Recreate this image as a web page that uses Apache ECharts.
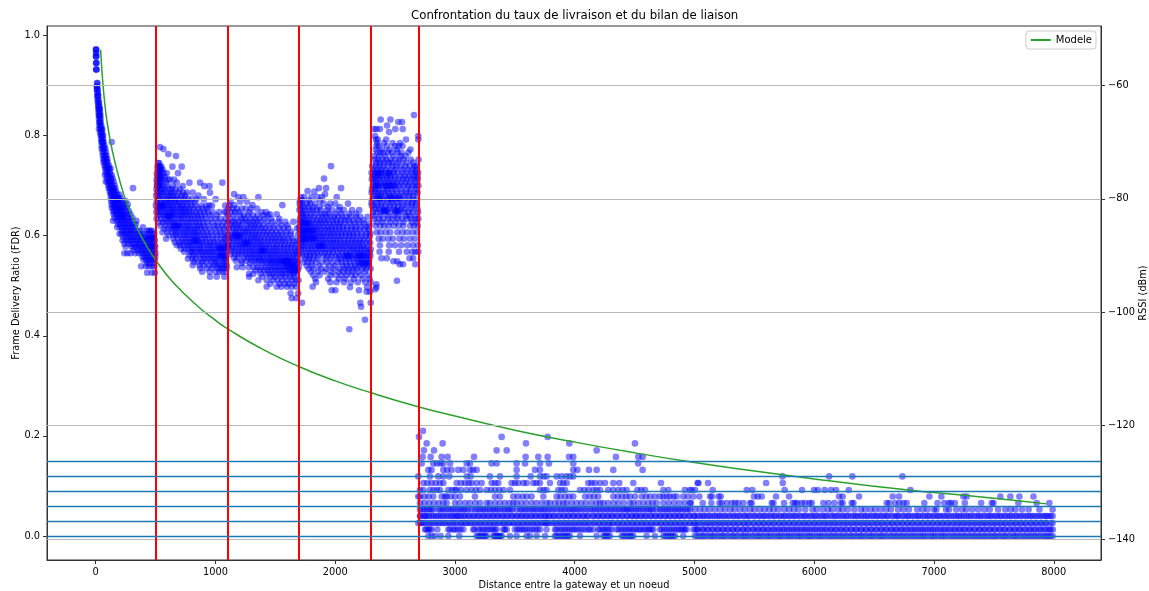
<!DOCTYPE html>
<html><head><meta charset="utf-8">
<script src="https://cdn.jsdelivr.net/npm/echarts@6/dist/echarts.min.js"></script>
<style>html,body{margin:0;padding:0;background:#fff}#c{width:1149px;height:591px}</style></head>
<body><div id="c"></div>
<script>
const xTicks=[0,1000,2000,3000,4000,5000,6000,7000,8000];
const fdrTicks=[0,0.2,0.4,0.6,0.8,1.0];
const rssiTicks=[-140,-120,-100,-80,-60];
const redLines=[500,1100,1700,2300,2700];
const blueLines=[0,0.034,0.062,0.09,0.118,0.146];
const modelDist=[42,50,61,70,80,90,103,125,150,200,261,340,423,498,642,867,1007,1093,1400,1700,2000,2300,2700,3000,3500,4000,4500,5000,5500,6000,6500,7000,7500,7940];
const modelRssi=[-53.7,-56.6,-59.7,-61.9,-63.9,-65.6,-67.4,-70,-72.5,-76.7,-80.8,-84.9,-88.2,-90.7,-94.6,-99.2,-101.5,-102.8,-106.6,-109.6,-112.1,-114.2,-116.7,-118.3,-120.8,-122.9,-124.8,-126.5,-128,-129.4,-130.7,-131.8,-132.8,-133.8];
// each row: [FDR level, distances read at that level]
const segA=[[.972,[2,4,5]],[.965,[3,6]],[.958,[2,4,6]],[.945,[3,6,7]],[.932,[4,6,8]],[.905,[12,15]],[.898,[9,13]],[.892,[10,14,17]],[.885,[15,19]],[.879,[13,18,22]],[.872,[17,23]],[.866,[18,24,28]],[.859,[21,26,31]],[.853,[22,28,33,36]],[.846,[25,31,37]],[.84,[26,30,35,40]],[.833,[28,36,41]],[.826,[30,36,42]],[.82,[33,39,47]],[.813,[28,40,46,50,55]],[.806,[37,47,54]],[.8,[42,50,56,62]],[.793,[46,53,63]],[.787,[48,55,60,66,134]],[.78,[51,64,73]],[.774,[50,62,70,80]],[.767,[57,69,86]],[.76,[60,72,82,90]],[.753,[64,75,88,97]],[.747,[66,78,90,100]],[.74,[74,86,99,111]],[.734,[80,92,105,115,125]],[.727,[84,101,118]],[.721,[78,96,108,120,135]],[.714,[94,113,127,141]],[.708,[85,100,115,130,150]],[.701,[106,122,133,158]],[.695,[110,120,135,150,165,312]],[.688,[118,129,147,171]],[.682,[125,135,150,165,180,200]],[.675,[128,143,155,172,191,208]],[.669,[130,145,160,175,190,205,225,250]],[.662,[134,152,163,181,197,216,242,268]],[.656,[135,150,165,180,200,215,235,260]],[.649,[146,159,176,193,211,229,254,278]],[.643,[150,170,185,205,225,240,265,290]],[.636,[158,181,198,218,236,259,281,306]],[.63,[145,175,195,215,235,250,275,295,340]],[.623,[188,206,228,247,268,287,313,336]],[.617,[180,205,225,245,265,285,305,325,395]],[.61,[218,236,258,279,296,320,347,372]],[.604,[200,215,240,255,275,295,315,340,360,385,410,440,470,490]],[.597,[232,261,286,304,331,352,379,402,426,452,484]],[.591,[225,250,270,290,310,330,350,370,390,410,430,450,470,495]],[.584,[240,273,298,323,345,366,388,414,437,461,489]],[.578,[250,300,320,340,360,380,400,420,440,460,480,498]],[.571,[317,352,373,396,417,446,469,492]],[.565,[240,265,290,330,360,385,405,425,445,465,485,500]],[.558,[391,411,433,456,473,497]],[.552,[400,420,440,460,478,495]],[.545,[428,447,486]],[.539,[380,420,445,470,490]],[.526,[430,470,495]]];
const segB=[[.777,[538]],[.773,[566]],[.763,[607]],[.759,[671]],[.745,[522,531]],[.738,[516,527,538,549,641,719]],[.732,[519,533,546,558]],[.725,[511,524,528,541,567,594,688]],[.718,[517,536,552,577]],[.712,[509,521,529,544,573,604,621,655]],[.706,[513,533,549,588,677,783,872,1058]],[.699,[518,527,562,597,643,727,908,950]],[.693,[508,537,553,579,612,636,668,704]],[.686,[514,523,546,568,592,629,651,693,731,762,811,955]],[.68,[505,528,558,601,618,647,677,719,748,858]],[.673,[517,539,566,588,614,633,662,685,712,744,773,806,842,903,1002]],[.667,[510,547,579,604,627,656,671,698,733,757,791,829]],[.66,[503,524,553,572,598,622,644,681,706,725,766,798,834,882,923,949,972,1082]],[.654,[516,534,562,586,613,638,659,689,713,738,755,783,817,856,891,931]],[.647,[507,529,556,581,607,633,649,672,702,724,749,778,803,838,869,906,938,977,1032,1077,1092]],[.641,[519,543,571,596,624,645,667,694,717,742,762,788,821,848,877,914,958,1012]],[.634,[509,548,576,603,628,653,687,711,735,771,797,826,857,884,918,962,1003,1043,1086]],[.627,[531,562,591,616,641,664,692,726,753,778,809,836,864,897,933,975,1022,1068]],[.62,[541,583,621,648,679,704,732,761,787,818,851,873,902,942,988,1019,1058,1093]],[.614,[571,606,634,659,683,713,746,769,794,826,846,881,911,951,995,1037,1073]],[.607,[558,598,642,668,697,728,752,783,812,833,859,893,927,963,1006,1042,1081]],[.601,[609,651,674,706,737,764,791,819,844,872,904,936,973,1014,1052,1088]],[.594,[588,649,688,722,748,776,801,831,854,887,916,943,978,1009,1047,1076,1096]],[.587,[662,701,729,757,782,809,837,866,893,923,957,986,1021,1056,1083]],[.581,[678,703,734,767,788,816,846,871,898,932,952,981,1012,1034,1069,1097]],[.574,[712,744,773,803,824,856,878,907,941,968,996,1027,1051,1079]],[.568,[738,787,802,829,861,884,912,933,961,984,1016,1039,1066,1091]],[.561,[782,814,838,868,897,923,953,976,1003,1029,1057,1084]],[.554,[771,808,832,879,906,937,958,991,1013,1046,1071,1089]],[.548,[819,856,891,921,966,997,1021,1063,1082]],[.541,[811,868,902,948,981,1007,1028,1053,1076,1094]],[.535,[873,928,972,1018,1041,1067,1092]],[.528,[889,952,1001,1033,1059,1087]],[.518,[955,1011,1075]]];
const segC=[[.683,[1156]],[.677,[1192,1234,1359]],[.668,[1125,1207,1263]],[.661,[1117,1158,1309,1559]],[.654,[1108,1143,1179,1221,1253,1296,1347]],[.647,[1131,1166,1198,1284,1385,1423]],[.643,[1456,1512]],[.641,[1104,1152,1209,1238,1272,1314,1352,1401,1439]],[.634,[1122,1174,1219,1247,1293,1332,1368,1411,1466,1534]],[.628,[1106,1141,1163,1196,1227,1258,1283,1317,1344,1379,1431,1477,1529,1583,1651]],[.621,[1128,1157,1188,1214,1268,1301,1329,1362,1397,1444,1494,1551,1602]],[.615,[1114,1149,1176,1204,1236,1262,1291,1322,1351,1386,1414,1452,1488,1531,1572,1608,1682]],[.608,[1137,1169,1193,1229,1251,1279,1308,1339,1371,1403,1436,1471,1507,1546,1589,1634]],[.602,[1104,1131,1161,1187,1216,1244,1274,1304,1331,1359,1394,1426,1456,1491,1522,1553,1592,1628,1691]],[.595,[1119,1146,1178,1207,1233,1267,1297,1324,1348,1377,1408,1443,1474,1502,1538,1567,1604,1644]],[.589,[1121,1152,1181,1206,1237,1263,1288,1319,1349,1376,1404,1437,1463,1497,1524,1556,1583,1617,1652,1686]],[.582,[1108,1139,1172,1198,1224,1252,1281,1312,1336,1367,1389,1418,1448,1481,1512,1544,1575,1609,1641,1673]],[.576,[1111,1142,1168,1201,1226,1256,1284,1309,1341,1369,1396,1424,1453,1486,1508,1541,1571,1601,1629,1662,1693]],[.569,[1133,1159,1191,1218,1248,1276,1303,1327,1356,1382,1412,1441,1469,1493,1519,1548,1578,1607,1637,1668,1688]],[.563,[1126,1164,1194,1222,1254,1282,1311,1334,1364,1391,1422,1449,1476,1504,1532,1561,1588,1614,1646,1671,1696]],[.556,[1154,1186,1241,1272,1298,1326,1354,1374,1401,1433,1459,1483,1511,1536,1563,1594,1622,1649,1677]],[.55,[1171,1219,1259,1302,1329,1361,1384,1409,1442,1464,1489,1516,1539,1566,1591,1613,1642,1664,1689]],[.545,[1220,1288,1343,1393,1428,1458,1479,1503,1526,1552,1576,1603,1627,1656,1683]],[.537,[1179,1227,1279,1318,1352,1383,1416,1444,1471,1496,1521,1543,1569,1597,1619,1646,1669,1697]],[.531,[1333,1372,1407,1438,1467,1499,1527,1557,1581,1611,1638,1661,1687]],[.524,[1281,1317,1376,1421,1451,1478,1509,1537,1562,1589,1621,1652,1679]],[.518,[1281,1391,1461,1501,1549,1586,1626,1658]],[.511,[1359,1428,1481,1519,1558,1601,1639,1671,1694]],[.504,[1459,1533,1578,1613,1659]],[.498,[1428,1512,1551,1599,1636,1674]],[.485,[1628,1691]],[.475,[1637,1676]]];
const segD=[[.739,[1965]],[.714,[1907]],[.695,[1865,1924,2049]],[.689,[1770]],[.688,[1826]],[.683,[1915]],[.677,[1714,1741,1802,1851,1889,2013]],[.67,[1706,1727,1783,1876]],[.664,[1704,1724,1762,1791,1832,1904,1958,2001,2107]],[.657,[1709,1737,1773,1818,1868,1942,2038]],[.651,[1702,1721,1749,1786,1811,1846,1879,1931,1976,2029,2072,2141,2201]],[.644,[1716,1732,1756,1797,1839,1886,1917,1948,2006,2053,2118,2174]],[.638,[1711,1736,1764,1792,1824,1861,1893,1926,1961,1991,2024,2061,2094,2129,2176,2211,2271]],[.631,[1704,1728,1747,1778,1813,1848,1877,1909,1939,1978,2011,2047,2081,2113,2152,2193,2238]],[.625,[1706,1724,1751,1774,1801,1829,1862,1888,1921,1952,1984,2016,2043,2079,2122,2161,2199,2241,2286]],[.618,[1701,1717,1743,1763,1787,1816,1842,1871,1903,1936,1968,1997,2031,2063,2101,2138,2171,2212,2253,2279]],[.612,[1703,1719,1737,1759,1781,1806,1831,1854,1884,1916,1944,1974,2004,2036,2066,2099,2136,2169,2204,2246,2281]],[.605,[1708,1727,1746,1768,1793,1819,1843,1874,1899,1933,1959,1988,2019,2052,2086,2116,2147,2181,2219,2262,2292]],[.599,[1711,1731,1749,1771,1796,1821,1851,1879,1906,1934,1966,1994,2026,2056,2089,2121,2151,2184,2221,2256,2289]],[.592,[1702,1722,1741,1758,1784,1809,1836,1866,1892,1921,1953,1981,2013,2041,2074,2109,2143,2172,2208,2238,2276]],[.586,[1706,1729,1754,1786,1814,1844,1871,1901,1929,1961,1986,2014,2046,2076,2104,2134,2166,2196,2224,2261,2291]],[.579,[1718,1739,1769,1799,1827,1858,1883,1911,1943,1972,2003,2032,2059,2088,2119,2148,2179,2207,2233,2268]],[.573,[1716,1744,1776,1804,1836,1864,1896,1924,1956,1983,2009,2041,2069,2101,2131,2156,2184,2216,2244,2274,2297]],[.566,[1722,1757,1788,1817,1849,1881,1914,1946,1979,2022,2058,2092,2126,2159,2186,2209,2236,2264,2288]],[.56,[1726,1761,1789,1824,1859,1902,1934,1971,2006,2034,2071,2099,2129,2161,2189,2216,2246,2269,2294]],[.554,[1748,1781,1812,1853,1922,1963,2018,2048,2083,2114,2146,2177,2203,2231,2259,2284]],[.547,[1734,1769,1801,1841,1891,1929,1976,2021,2054,2091,2124,2159,2191,2219,2251,2279]],[.54,[1763,1808,1867,1949,1998,2062,2097,2133,2168,2201,2238,2272]],[.534,[1779,1821,1881,1926,1984,2036,2079,2111,2149,2181,2226,2259,2296]],[.528,[1798,1857,1913,1968,2027,2067,2106,2144,2194,2248]],[.521,[1816,1869,1961,2004,2051,2094,2136,2171,2214,2271]],[.514,[1834,1941,2033,2084,2158,2229,2286]],[.507,[1840,1959,2011,2074,2131,2189,2252,2296]],[.498,[1812]],[.497,[2124,2266,2344]],[.491,[1971,2199,2001]],[.488,[2263,2291]],[.466,[1723,2210,2297]],[.458,[2216]],[.432,[2249]],[.413,[2118]]];
const segE=[[.841,[2658]],[.832,[2380,2461]],[.827,[2527,2558]],[.82,[2433]],[.813,[2324,2345,2374,2502,2564]],[.807,[2450]],[.799,[2333,2694]],[.792,[2341,2356,2426,2591,2694]],[.785,[2349,2407,2479,2541]],[.779,[2346,2366,2431,2499,2531,2562]],[.772,[2338,2392,2454,2513,2628]],[.766,[2351,2376,2404,2441,2472,2521,2553,2611]],[.759,[2322,2367,2417,2486,2546,2587]],[.752,[2331,2359,2396,2427,2461,2503,2538,2572,2631,2696]],[.746,[2344,2372,2409,2448,2476,2527,2593,2652]],[.739,[2309,2341,2369,2401,2439,2482,2511,2547,2584,2626,2664,2681]],[.732,[2317,2352,2388,2421,2467,2506,2559,2604,2647,2675]],[.726,[2304,2329,2356,2384,2416,2451,2489,2519,2561,2601,2639,2671,2693]],[.719,[2313,2337,2363,2393,2428,2459,2497,2543,2579,2618,2657,2686]],[.713,[2306,2326,2351,2374,2406,2436,2464,2496,2529,2566,2599,2636,2664,2691]],[.706,[2319,2343,2381,2412,2446,2481,2516,2552,2589,2623,2668]],[.7,[2314,2339,2366,2394,2424,2461,2501,2534,2571,2609,2646,2674,2695]],[.693,[2307,2333,2358,2403,2434,2469,2508,2548,2596,2632,2678]],[.686,[2304,2331,2361,2386,2414,2444,2479,2514,2556,2591,2624,2666,2689]],[.68,[2323,2354,2379,2422,2458,2492,2533,2574,2614,2651]],[.673,[2311,2339,2371,2399,2431,2466,2499,2541,2581,2621,2654,2684]],[.666,[2303,2347,2389,2438,2474,2517,2564,2607,2643,2677]],[.66,[2306,2324,2354,2386,2419,2456,2491,2526,2559,2602,2641,2673]],[.653,[2334,2368,2407,2449,2494,2549,2586,2637,2687]],[.647,[2316,2344,2381,2413,2451,2502,2534,2576,2611,2644,2692]],[.64,[2326,2377,2437,2487,2528,2588,2619,2668]],[.634,[2324,2364,2401,2441,2479,2521,2558,2599,2631,2671,2695]],[.627,[2349,2397,2457,2509,2569,2642,2682]],[.62,[2336,2376,2409,2446,2489,2531,2569,2626,2659,2689]],[.607,[2346,2379,2421,2459,2519,2561,2601,2646,2684]],[.594,[2364,2396,2444,2481,2536,2574,2624,2666]],[.581,[2374,2451,2499,2551,2603,2649,2691]],[.568,[2371,2447,2533,2598,2644,2669,2694]],[.555,[2386,2431,2621,2651]],[.549,[2486,2518]],[.543,[2539,2566,2669]],[.51,[2516]],[.503,[2344]],[.493,[2335]]];
const segF=[[.21,[2733]],[.198,[2700,3390,3774]],[.185,[2764,2897,3593,3955,4503]],[.171,[2741,2825,3348,3432,4183]],[.158,[2730,2797,2889,2939,3159,3590,3696,3774,3952,3988,4344,4531,4567]],[.145,[2722,2819,2850,2880,2903,2959,3098,3125,3306,3348,3515,3585,3710,3785,3988,4530]],[.132,[2778,2805,2903,2935,2972,3028,3070,3125,3150,3181,3515,3668,3710,3988,4022,4119,4183,4322,4567]],[.119,[2694,2791,2861,2903,2953,3098,3131,3292,3376,3515,3632,3710,3740,3765,3849,3890,3930,3960,3988,5734,6124,6318,6736]],[.106,[2736,2770,2805,2840,2875,2903,3014,3050,3085,3115,3139,3181,3223,3306,3335,3362,3473,3500,3529,3571,3599,3654,3680,3710,3793,3877,3905,3933,4113,4140,4169,4211,4253,4322,4372,4489,4720,5026,5033,5113,5598,5737]],[.092,[2708,2736,2791,2820,2850,2875,2945,2975,3000,3014,3050,3098,3139,3175,3209,3265,3300,3335,3370,3405,3459,3710,3740,3765,3863,3890,3919,4044,4080,4115,4155,4183,4211,4280,4322,4364,4400,4433,4523,4555,4587,4740,4781,4920,4960,4977,5005,5152,5436,5483,5753,5898,5998,6029,6087,6140,6182,6288,6803]],[.079,[2694,2708,2745,2780,2819,2889,2917,2931,2965,3000,3042,3167,3334,3376,3487,3525,3565,3600,3640,3738,3849,3880,3920,3955,3988,4086,4125,4160,4197,4322,4360,4395,4430,4461,4503,4559,4595,4630,4670,4712,4740,4768,4795,4825,4851,4906,4945,4990,5041,5130,5145,5200,5219,5497,5528,5561,5681,5790,6207,6237,6374,6655,6708,6961,7061,7245,7273,7554,7637,7713,7830]],[.066,[2708,2745,2785,2825,2865,2903,2931,3000,3040,3085,3125,3170,3210,3265,3292,3335,3375,3415,3455,3487,3515,3555,3595,3640,3680,3725,3765,3793,3835,3870,3905,3933,3975,4015,4055,4095,4140,4180,4211,4239,4280,4325,4365,4410,4461,4489,4530,4573,4614,4650,4684,4740,4785,4830,4875,4920,4962,4970,5069,5141,5208,5227,5269,5311,5339,5366,5408,5464,5478,5645,5659,5748,5820,5840,5859,5895,5923,5959,5979,6076,6118,6168,6221,6237,6313,6327,6605,6627,6675,6711,6744,6772,6919,7029,7085,7124,7140,7174,7257,7393,7482,7496,7704,7857,7963]],[.053,[2708,2745,2785,2819,2861,2900,2945,2985,3030,3070,3110,3139,3167,3210,3250,3295,3335,3376,3404,3445,3480,3515,3543,3585,3630,3670,3715,3755,3800,3849,3877,3920,3965,4005,4050,4100,4127,4170,4215,4260,4305,4350,4395,4433,4447,4490,4530,4575,4620,4655,4684,4712,4755,4795,4840,4880,4925,4965,5004,5046,5085,5125,5170,5215,5255,5300,5335,5380,5420,5465,5500,5545,5585,5625,5660,5700,5750,5790,5830,5870,5925,5985,6020,6070,6115,6150,6200,6235,6280,6335,6390,6425,6470,6510,6555,6600,6640,6700,6745,6790,6860,6905,6945,7000,7020,7100,7125,7185,7235,7270,7320,7370,7420,7465,7535,7595,7640,7680,7735,7790,7880,7990]],[.04,[2708,2750,2764,2805,2845,2885,2925,2965,3000,3028,3070,3110,3150,3190,3230,3270,3310,3350,3390,3430,3470,3510,3550,3590,3630,3670,3710,3750,3790,3821,3863,3905,3945,3985,4025,4065,4105,4150,4190,4230,4270,4310,4350,4392,4435,4475,4510,4545,4587,4630,4670,4710,4750,4790,4830,4870,4910,4955,4995,5046,5083,5125,5170,5210,5252,5295,5340,5380,5425,5465,5510,5555,5595,5640,5680,5725,5765,5810,5850,5895,5935,5980,6020,6066,6105,6155,6195,6240,6280,6327,6365,6410,6450,6495,6535,6580,6620,6670,6705,6755,6795,6842,6880,6925,6965,7010,7050,7095,7140,7185,7225,7270,7310,7357,7395,7442,7480,7525,7565,7610,7650,7695,7740,7785,7825,7870,7915,7950,7990]],[.026,[2694,2722,2760,2800,2840,2880,2920,2960,3000,3056,3095,3135,3175,3215,3255,3295,3335,3375,3415,3455,3495,3535,3575,3615,3655,3695,3735,3765,3807,3847,3887,3927,3967,4007,4047,4087,4127,4167,4207,4247,4287,4322,4364,4404,4444,4484,4524,4564,4604,4644,4684,4724,4764,4804,4844,4884,4924,4964,5004,5046,5088,5128,5168,5210,5250,5290,5332,5372,5415,5455,5498,5540,5580,5622,5662,5705,5745,5788,5828,5870,5912,5952,5995,6035,6078,6118,6160,6200,6243,6283,6325,6365,6408,6448,6490,6532,6572,6615,6655,6698,6738,6780,6820,6863,6903,6945,6985,7028,7068,7110,7150,7193,7233,7275,7317,7357,7400,7440,7483,7523,7565,7605,7648,7688,7730,7770,7813,7853,7895,7935,7990]],[.013,[2750,2778,2805,2853,2945,2985,3025,3070,3153,3195,3235,3275,3315,3348,3404,3432,3500,3540,3580,3625,3670,3710,3765,3835,3875,3915,3955,3995,4040,4086,4113,4155,4197,4235,4270,4308,4350,4390,4430,4470,4510,4550,4590,4625,4656,4712,4750,4790,4830,4870,4905,4934,4990,5030,5072,5112,5155,5195,5238,5278,5320,5360,5403,5443,5485,5525,5568,5608,5650,5690,5733,5773,5815,5855,5898,5938,5980,6020,6063,6103,6145,6185,6228,6268,6310,6350,6393,6433,6475,6515,6558,6598,6640,6680,6723,6763,6805,6845,6888,6928,6970,7010,7053,7093,7135,7175,7218,7258,7300,7340,7383,7423,7465,7505,7548,7588,7630,7670,7713,7753,7795,7835,7878,7918,7960,7992]],[0,[2778,2805,2833,2880,2945,3036,3181,3210,3240,3265,3320,3345,3370,3390,3459,3515,3598,3626,3682,3752,3835,3865,3900,3930,3960,4044,4183,4239,4265,4294,4392,4425,4460,4489,4600,4670,4740,4775,4805,4837,4906,5004,5046,5083,5130,5168,5215,5252,5301,5340,5388,5425,5470,5517,5555,5602,5640,5689,5725,5772,5810,5858,5895,5943,5980,6028,6066,6113,6155,6198,6240,6285,6327,6372,6410,6458,6495,6543,6580,6628,6670,6713,6755,6800,6842,6887,6925,6973,7010,7058,7095,7143,7185,7228,7270,7315,7357,7400,7442,7487,7525,7572,7610,7658,7695,7743,7785,7828,7870,7915,7952,7990]]];
// extra readings where the bottom rows are solid
const solidLevelsFar=[0,.013,.026,.04];
const solidFarA=[5025,5067,5108,5149,5192,5233,5276,5320,5362,5407,5447,5493,5536,5578,5621,5664,5708,5749,5791,5834,5876,5919,5961,6004,6047,6090,6134,6176,6219,6262,6306,6349,6391,6434,6476,6519,6561,6604,6649,6691,6734,6778,6821,6864,6906,6949,6991,7034,7076,7119,7164,7206,7249,7293,7336,7379,7421,7464,7506,7549,7591,7634,7677,7719,7764,7807,7849,7892,7934,7972];
const solidLevelsMid=[.026,.04];
const solidMid=[2712,2741,2783,2822,2862,2901,2942,2981,3018,3047,3082,3121,3162,3202,3243,3284,3322,3361,3402,3441,3482,3523,3562,3601,3642,3681,3722,3757,3781,3828,3871,3912,3951,3992,4033,4074,4112,4158,4199,4238,4279,4316,4358,4398,4439,4479,4517,4558,4596,4637,4677,4716,4757,4797,4837,4877,4917,4959,4998];
const clumpsMid=[[.013,[2762,2791,2958,3002,3047,3163,3214,3256,3297,3333,3416,3521,3561,3602,3647,3691,3848,3894,3936,3978,4017,4062,4128,4212,4251,4289,4369,4411,4452,4491,4531,4572,4611,4641,4727,4769,4811,4851,4889,4921,5008]],[.053,[2728,2766,2803,2878,2921,2966,3008,3051,3089,3188,3231,3272,3316,3356,3421,3463,3562,3607,3651,3694,3736,3778,3825,3895,3943,3986,4028,4076,4148,4193,4238,4283,4328,4373,4413,4468,4511,4553,4598,4638,4731,4775,4818,4861,4903,4945]],[0,[3195,3225,3252,3332,3358,3378,3848,3882,3915,3945,4251,4279,4408,4443,4474,4757,4790,4821]]];
// darker knots visible inside the upper clouds
const knots=[[.69,[140,148,155]],[.675,[160,168,176,184]],[.655,[190,198,206]],[.64,[210,222,231]],[.61,[430,445,458,470]],[.595,[440,455,468,482]],[.58,[450,466,478,490]],[.72,[520,528,535]],[.7,[512,520,530,538]],[.66,[530,538,552,560]],[.64,[600,612,625]],[.62,[660,672,690]],[.59,[820,835,850]],[.575,[1030,1045,1060,1075]],[.56,[1040,1050,1062,1078]],[.6,[1160,1175,1190,1205]],[.585,[1240,1256,1272]],[.57,[1380,1395,1410]],[.55,[1560,1575,1590,1605,1620]],[.54,[1590,1610,1630,1650,1665]],[.53,[1620,1640,1660,1680]],[.625,[1730,1745,1760,1778]],[.61,[1715,1735,1750,1775,1795,1810]],[.595,[1725,1745,1760,1790,1815,1830]],[.58,[1860,1880,1895]],[.56,[2090,2105,2120,2195,2215,2235]],[.545,[2210,2230,2250,2265,2280]],[.725,[2350,2365,2380,2440,2455]],[.7,[2345,2360,2420,2440,2455,2480,2490]],[.675,[2360,2375,2450,2465,2480,2520,2535]],[.65,[2400,2415,2430,2500,2515,2530]]];

const points=[];
[segA,segB,segC,segD,segE,segF,clumpsMid,knots].forEach(seg=>seg.forEach(([f,xs])=>xs.forEach(x=>points.push([x,f]))));
solidLevelsFar.forEach(f=>solidFarA.forEach(x=>points.push([x,f])));
solidLevelsMid.forEach(f=>solidMid.forEach(x=>points.push([x,f])));
const font='DejaVu Sans';
const chart=echarts.init(document.getElementById('c'),null,{renderer:'canvas'});
const line=(c,w)=>({color:c,width:w,type:'solid',opacity:1});
chart.setOption({
  animation:false,backgroundColor:'#fff',
  title:{text:'Confrontation du taux de livraison et du bilan de liaison',left:411,top:10,padding:0,
    textStyle:{fontFamily:font,fontSize:11.75,fontWeight:'normal',color:'#000'}},
  legend:{data:['Modele'],right:53,top:31,orient:'horizontal',itemWidth:20,itemHeight:2,itemGap:6,
    padding:[4,4,4,4],borderColor:'#ccc',borderWidth:1,borderRadius:3,backgroundColor:'#fff',
    textStyle:{fontFamily:font,fontSize:10,color:'#000'}},
  grid:{left:47,right:48,top:26,bottom:31,show:true,borderColor:'#333',borderWidth:1,backgroundColor:'transparent',containLabel:false,outerBoundsMode:'none'},
  xAxis:{type:'value',min:-406,max:8394,splitLine:{show:false},
    axisLine:{onZero:false,lineStyle:{color:'#333'}},
    axisTick:{show:true,length:4,customValues:xTicks,lineStyle:{color:'#333'}},
    axisLabel:{customValues:xTicks,margin:7,fontFamily:font,fontSize:9.8,color:'#000',hideOverlap:false,formatter:v=>String(v)},
    name:'Distance entre la gateway et un noeud',nameLocation:'middle',nameGap:20,nameMoveOverlap:false,
    nameTextStyle:{fontFamily:font,fontSize:9.8,color:'#000'}},
  yAxis:[
   {type:'value',min:-0.048,max:1.019,splitLine:{show:false},
    axisLine:{onZero:false,lineStyle:{color:'#333'}},
    axisTick:{show:true,length:4,customValues:fdrTicks,lineStyle:{color:'#333'}},
    axisLabel:{customValues:fdrTicks,margin:7,fontFamily:font,fontSize:9.8,color:'#000',formatter:v=>v.toFixed(1)},
    name:'Frame Delivery Ratio (FDR)',nameLocation:'middle',nameGap:26,nameMoveOverlap:false,
    nameTextStyle:{fontFamily:font,fontSize:9.8,color:'#000'}},
   {type:'value',position:'right',min:-143.7,max:-49.5,splitLine:{show:false},
    axisLine:{onZero:false,lineStyle:{color:'#333'}},
    axisTick:{show:true,length:4,customValues:rssiTicks,lineStyle:{color:'#333'}},
    axisLabel:{customValues:rssiTicks,margin:7,fontFamily:font,fontSize:9.8,color:'#000',formatter:v=>'\u2212'+Math.abs(v)},
    name:'RSSI (dBm)',nameLocation:'middle',nameGap:37,nameRotate:90,nameMoveOverlap:false,
    nameTextStyle:{fontFamily:font,fontSize:9.8,color:'#000'}}
  ],
  series:[
   {type:'line',name:'grid',yAxisIndex:1,data:[],z:1,silent:true,
    markLine:{silent:true,symbol:'none',animation:false,label:{show:false},lineStyle:line('#b8b8b8',1),data:rssiTicks.map(v=>({yAxis:v}))}},
   {type:'scatter',name:'FDR',data:points,symbolSize:6.6,z:2,large:false,progressive:0,silent:true,
    itemStyle:{color:'#0000ff',opacity:.5}},
   {type:'line',name:'red',data:[],z:3,silent:true,
    markLine:{silent:true,symbol:'none',animation:false,label:{show:false},lineStyle:line('#ff0000',2),data:redLines.map(v=>({xAxis:v}))}},
   {type:'line',name:'blue',data:[],z:3,silent:true,
    markLine:{silent:true,symbol:'none',animation:false,label:{show:false},lineStyle:line('#1f77b4',1.3),data:blueLines.map(v=>({yAxis:v}))}},
   {type:'line',name:'Modele',yAxisIndex:1,z:4,showSymbol:false,symbol:'none',smooth:true,silent:true,
    data:modelDist.map((d,i)=>[d,modelRssi[i]]),
    lineStyle:{color:'#2ca02c',width:1.5},itemStyle:{color:'#2ca02c'}}
  ]
});
</script></body></html>
